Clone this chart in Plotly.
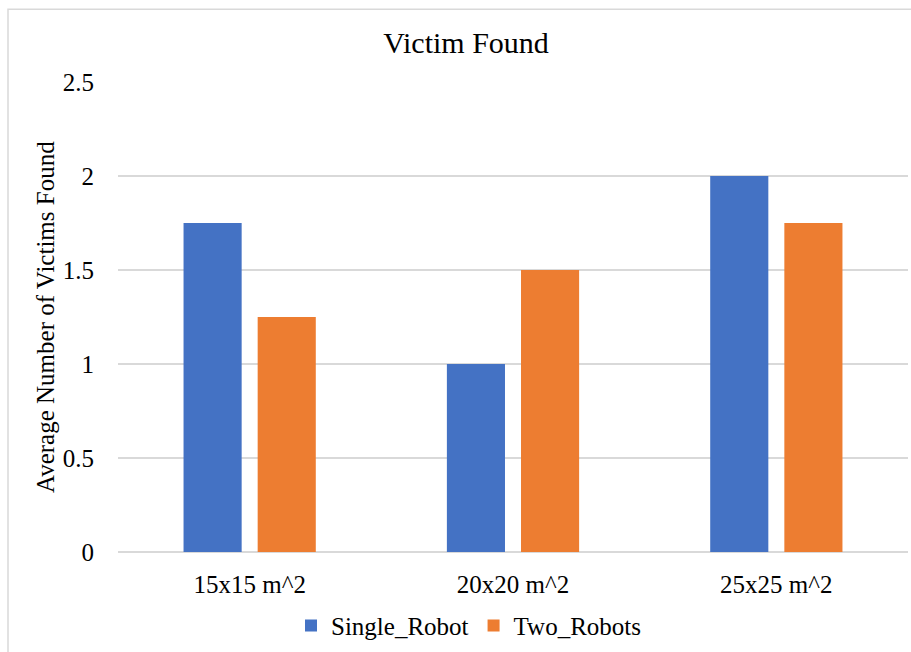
import plotly.graph_objects as go

categories = ["15x15 m^2", "20x20 m^2", "25x25 m^2"]
single_robot = [1.75, 1.0, 2.0]
two_robots = [1.25, 1.5, 1.75]
y_ticks = [0, 0.5, 1, 1.5, 2, 2.5]
y_tick_labels = ["0", "0.5", "1", "1.5", "2", "2.5"]

SERIF = "Liberation Serif"
W, H = 911, 652
L, R, T, B = 118, 3, 82, 98
pw, ph = W - L - R, H - T - B

fig = go.Figure()
fig.add_trace(go.Bar(name="Single_Robot", x=categories, y=single_robot,
                     marker=dict(color="#4472C4", line=dict(width=0))))
fig.add_trace(go.Bar(name="Two_Robots", x=categories, y=two_robots,
                     marker=dict(color="#ED7D31", line=dict(width=0))))

# outer chart frame (top and left edges visible)
x0 = (8 - L) / pw
y1 = 1 + (T - 9) / ph
fig.add_shape(type="rect", xref="paper", yref="paper",
              x0=x0, x1=1.2, y0=-0.5, y1=y1,
              line=dict(color="#D9D9D9", width=1.5), layer="below")

fig.update_layout(
    width=W, height=H,
    margin=dict(l=L, r=R, t=T, b=B),
    paper_bgcolor="white", plot_bgcolor="white",
    barmode="group", bargap=0.437, bargroupgap=0.216,
    title=dict(text="Victim Found", x=(466 - L) / pw, xref="paper", xanchor="center",
               y=1 - 42 / H, yanchor="middle",
               font=dict(family=SERIF, size=30, color="#000000")),
    font=dict(family=SERIF, size=25, color="#000000"),
    xaxis=dict(showgrid=False, showline=False, ticks="", ticklabelstandoff=15,
               tickfont=dict(family=SERIF, size=25, color="#000000")),
    yaxis=dict(range=[0, 2.5], tickvals=y_ticks, ticktext=y_tick_labels,
               showgrid=True, gridcolor="#D9D9D9", gridwidth=1.5,
               zeroline=True, zerolinecolor="#D9D9D9", zerolinewidth=1.5,
               showline=False, ticks="", ticklabelstandoff=23,
               tickfont=dict(family=SERIF, size=25, color="#000000")),
    legend=dict(orientation="h", x=(469 - L) / pw, xanchor="center",
                y=(554 - 628) / ph, yanchor="middle",
                font=dict(family=SERIF, size=25, color="#000000"),
                itemwidth=30, traceorder="normal"),
    showlegend=True,
)

# y-axis title placed as rotated annotation
fig.add_annotation(text="Average Number of Victims Found", xref="paper", yref="paper",
                   x=(45 - L) / pw, y=0.5, xanchor="center", yanchor="middle",
                   textangle=-90, showarrow=False,
                   font=dict(family=SERIF, size=25, color="#000000"))

fig.write_html("out.html")
